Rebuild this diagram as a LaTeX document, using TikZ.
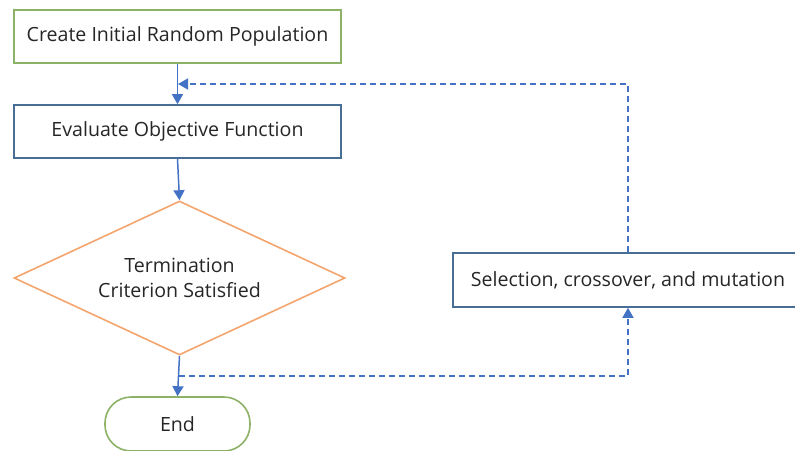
\documentclass[tikz,border=0pt]{standalone}
\usepackage{fontspec}
\setmainfont{Open Sans}
\usetikzlibrary{arrows.meta,shapes.geometric}
\definecolor{boxgreen}{RGB}{140,178,104}
\definecolor{boxblue}{RGB}{72,110,150}
\definecolor{dorange}{RGB}{244,165,110}
\definecolor{arrblue}{RGB}{68,114,196}
\definecolor{txt}{RGB}{38,38,38}
\tikzset{
  every node/.style={text=txt, font=\fontsize{19.6}{25}\selectfont},
  procbox/.style={draw, line width=1.6pt, rectangle, inner sep=0pt},
  flow/.style={draw=arrblue, line width=1.5pt, -{Triangle[length=10pt,width=11pt]}, fill=none},
  loopflow/.style={flow, dash pattern=on 6pt off 4pt},
}
\begin{document}
\begin{tikzpicture}[x=1pt,y=-1pt]
\useasboundingbox (0,0) rectangle (795,450);
\node[procbox, draw=boxgreen, minimum width=327pt, minimum height=53pt] (init) at (177.5,36.5) {Create Initial Random Population};
\node[procbox, draw=boxblue, minimum width=327pt, minimum height=53pt] (eval) at (177.5,131.5) {Evaluate Objective Function};
\node[draw=dorange, line width=1.6pt, diamond, inner sep=0pt, minimum width=331pt, minimum height=154pt] (term) at (179.5,278) {};
\node[align=center, inner sep=0pt] (termtext) at (term.center) {Termination\\Criterion Satisfied};
\node[draw=boxgreen, line width=1.6pt, rectangle, rounded corners=26pt, minimum width=145pt, minimum height=54pt, inner sep=0pt] (end) at (177.5,424) {End};
\node[procbox, draw=boxblue, minimum width=350pt, minimum height=54pt] (sel) at (628,280) {Selection, crossover, and mutation};
\coordinate (top) at (178,84);
\coordinate (bot) at (179,376);
\draw[flow] (init.south) -- (eval.north);
\draw[flow] (eval.south) -- (term.north);
\draw[flow] (term.south) -- (end.north);
\draw[loopflow] (bot) -| (sel.south);
\draw[loopflow] (sel.north) |- (top);
\end{tikzpicture}
\end{document}
